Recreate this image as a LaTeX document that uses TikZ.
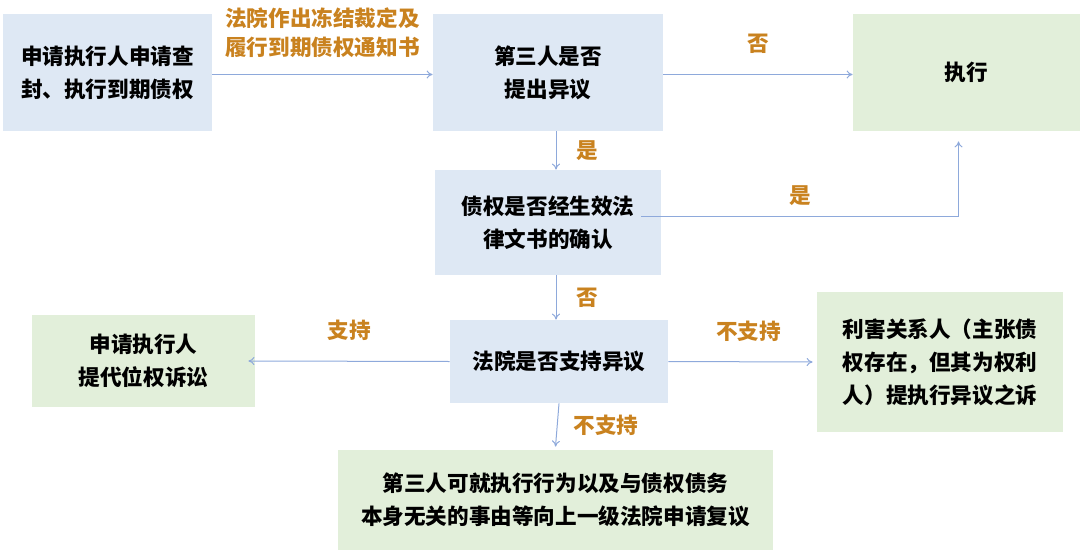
\documentclass[tikz,border=0pt]{standalone}
\usepackage{fontspec}
\setmainfont{Noto Sans CJK SC}
\usetikzlibrary{arrows.meta}
\definecolor{bxblue}{HTML}{DEE8F4}
\definecolor{bxgreen}{HTML}{E2EFDA}
\definecolor{lbl}{HTML}{C9821F}
\definecolor{ln}{HTML}{8EA9DB}
\tikzset{bx/.style={
  shape=rectangle,
  align=center,
  inner sep=2pt,
  font=\fontsize{10.8}{16.5}\selectfont\bfseries
}}
\tikzset{bxb/.style={bx,fill=bxblue}}
\tikzset{bxg/.style={bx,fill=bxgreen}}
\tikzset{lab/.style={
  text=lbl,
  align=center,
  inner sep=2pt,
  font=\fontsize{10.8}{14.5}\selectfont\bfseries
}}
\tikzset{arr/.style={
  draw=ln,
  line width=0.5pt,
  -{To[length=3pt,width=4pt]}
}}

\begin{document}
\begin{tikzpicture}[x=0.5pt,y=-0.5pt]
    \useasboundingbox (0,0) rectangle (1080,551);

    %% Boxes

    % First row
    \node[bxb,minimum width=104.5pt,minimum height=58.5pt] (apply)
      at (107.5,72.5) {申请执行人申请查\\封、执行到期债权};
    \node[bxb,minimum width=115pt,minimum height=58.5pt] (object)
      at (548,72.5) {第三人是否\\提出异议};
    \node[bxg,minimum width=113.5pt,minimum height=58.5pt] (exec)
      at (966.5,72.5) {执行};

    % Middle
    \node[bxb,minimum width=113pt,minimum height=52.5pt] (confirm)
      at (548,222.5) {债权是否经生效法\\律文书的确认};
    \node[bxb,minimum width=109pt,minimum height=41.5pt] (court)
      at (559,361.5) {法院是否支持异议};

    % Outcomes
    \node[bxg,minimum width=111.5pt,minimum height=46pt] (suit)
      at (143.5,361) {申请执行人\\提代位权诉讼};
    \node[bxg,minimum width=123pt,minimum height=70pt] (party)
      at (940,362) {利害关系人（主张债\\权存在，但其为权利\\人）提执行异议之诉};
    \node[bxg,minimum width=217.5pt,minimum height=50pt] (review)
      at (555.5,500) {第三人可就执行行为以及与债权债务\\本身无关的事由等向上一级法院申请复议};

    %% Connectors

    \draw[arr] ([yshift=-1pt]apply.east) -- ([yshift=-1pt]object.west)
      node[lab,midway,above=6pt] (lnotice) {法院作出冻结裁定及\\履行到期债权通知书};
    \draw[arr] ([yshift=-1pt]object.east) -- ([yshift=-1pt]exec.west)
      node[lab,midway,above=8pt] (lno1) {否};
    \draw[arr] ([xshift=4pt]object.south) -- ([xshift=4pt]confirm.north)
      node[lab,midway,right=8pt] (lyes1) {是};
    \draw[arr] ([xshift=-10pt,yshift=3pt]confirm.east)
      -| ([xshift=-4pt,yshift=-5pt]exec.south)
      node[lab,pos=0.25,above=3pt] (lyes2) {是};
    \draw[arr] ([xshift=4pt]confirm.south) -- ([xshift=-1.5pt]court.north)
      node[lab,midway,right=8pt] (lno2) {否};
    \draw[arr] (court.west) -- ([xshift=-3.5pt]suit.east)
      node[lab,midway,above=8pt] (lsup) {支持};
    \draw[arr] (court.east) -- ([xshift=-2pt]party.west)
      node[lab,midway,above=8pt,xshift=4pt] (lnsup1) {不支持};
    \draw[arr] (court.south) -- ([yshift=1.5pt]review.north)
      node[lab,midway,right=6pt] (lnsup2) {不支持};

\end{tikzpicture}
\end{document}
